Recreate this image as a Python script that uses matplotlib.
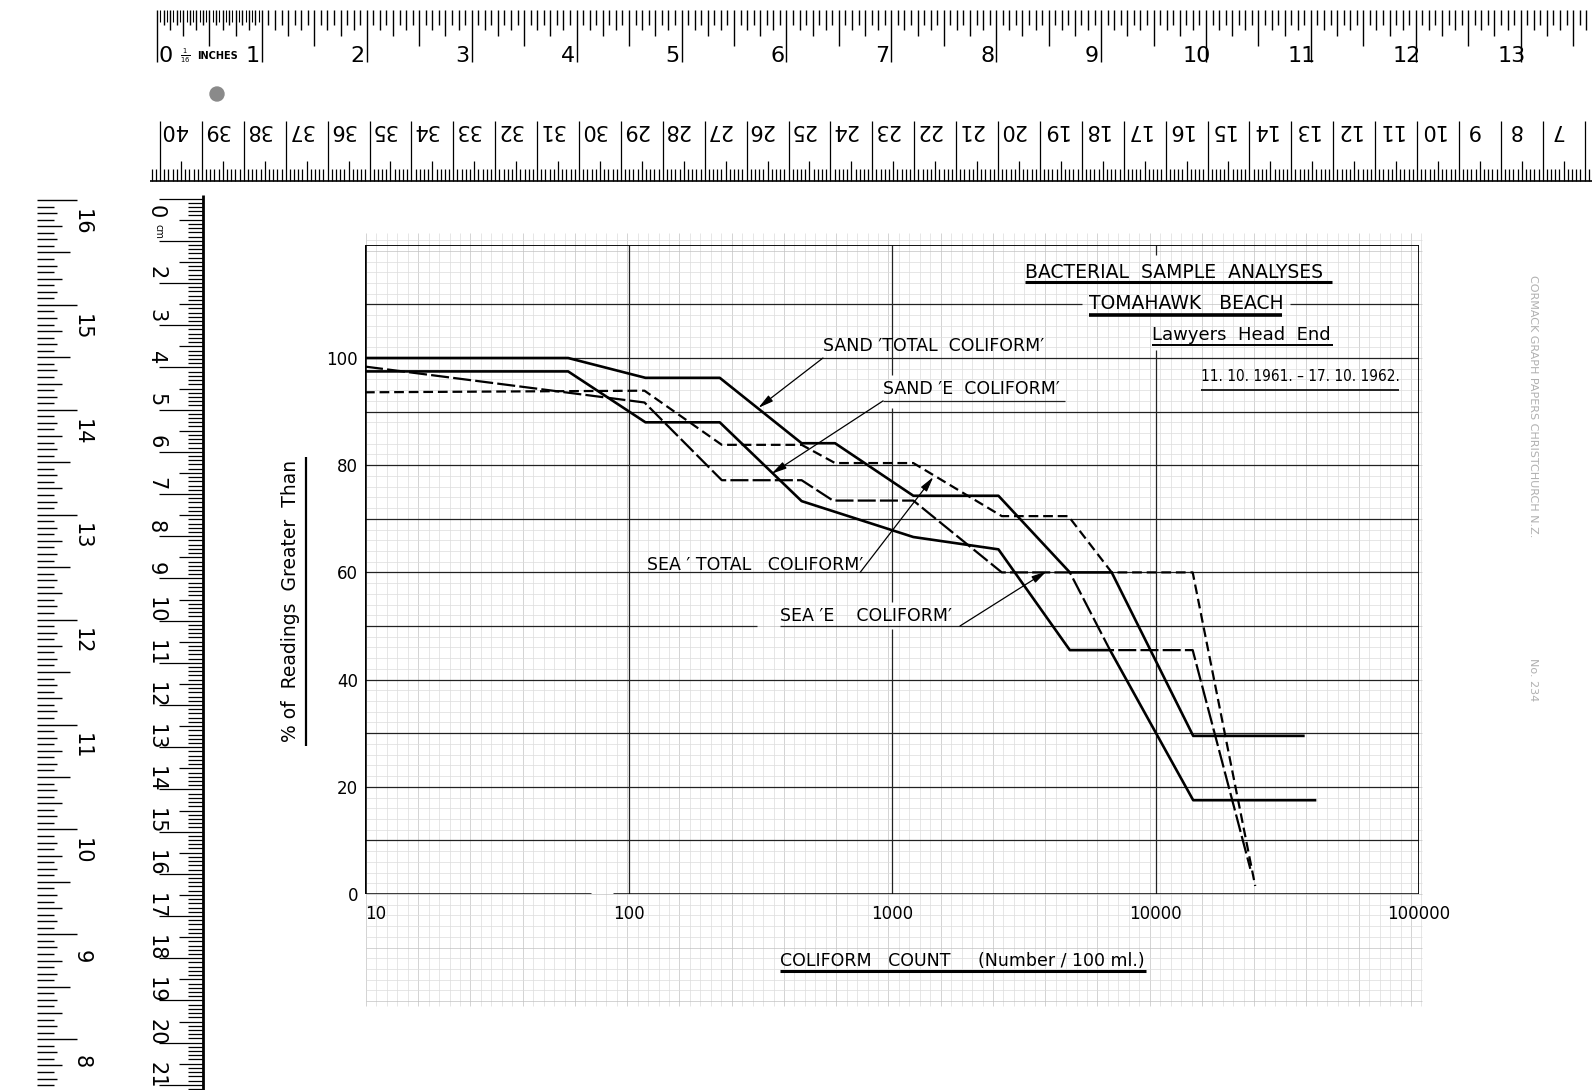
import matplotlib
matplotlib.use("Agg")
import matplotlib.pyplot as plt
from matplotlib.patches import Circle
from matplotlib.ticker import NullLocator
import numpy as np

plt.rcParams['font.family'] = ['DejaVu Sans']
plt.rcParams['lines.scale_dashes'] = False

# coliform count (number / 100 ml) against % of readings greater than
sand_total_x = [10, 59, 116, 222, 454, 608, 1205, 2535, 4730, 6820, 13900, 36400]
sand_total_y = [100, 100, 96.3, 96.3, 84.1, 84.1, 74.3, 74.3, 60, 60, 29.5, 29.5]
sand_e_x = [10, 59, 116, 222, 454, 1205, 2535, 4730, 6720, 13900, 40300]
sand_e_y = [97.5, 97.5, 88, 88, 73.3, 66.6, 64.3, 45.5, 45.5, 17.5, 17.5]
sea_total_x = [10, 115, 226, 454, 608, 1205, 2610, 4670, 6820, 13840, 23900]
sea_total_y = [93.6, 93.9, 83.8, 83.8, 80.4, 80.4, 70.5, 70.5, 60, 60, 1.5]
sea_e_x = [10, 115, 226, 454, 597, 1205, 2610, 4730, 6720, 13840, 22900]
sea_e_y = [98.4, 91.7, 77.2, 77.2, 73.4, 73.4, 60, 60, 45.5, 45.5, 4.7]

x_ticks = [10, 100, 1000, 10000, 100000]
x_labels = ['10', '100', '1000', '10000', '100000']
y_ticks = [0, 20, 40, 60, 80, 100]
y_labels = ['0', '20', '40', '60', '80', '100']

# ruler numbering
inch_top = list(range(0, 14))
cm_top = list(range(40, 6, -1))
inch_left = list(range(16, 7, -1))
cm_left = list(range(0, 22))

W, H = 1592, 1090
fig = plt.figure(figsize=(W / 100, H / 100), dpi=100)

# paper / rulers layer in pixel coordinates
paper = fig.add_axes([0, 0, 1, 1])
paper.set_xlim(0, W)
paper.set_ylim(H, 0)
paper.axis('off')
paper.set_zorder(0)

# fine graph paper grid
gx = np.arange(366, 1423, 10.45)
gy = 894 - np.arange(-10, 63) * 10.72
gy = gy[(gy > 232) & (gy < 1007)]
for i, x in enumerate(gx):
    paper.vlines(x, 233, 1006, color='#c2c2c2' if i % 5 == 0 else '#dcdcdc', lw=0.5)
for y in gy:
    k = int(round((894 - y) / 10.72))
    paper.hlines(y, 366, 1422, color='#c2c2c2' if k % 5 == 0 else '#dcdcdc', lw=0.5)

# top inch ruler
in0, ppi = 157, 104.9
for i in range(0, int((W - in0) / ppi * 16) + 1):
    x = in0 + i * ppi / 16
    if i % 16 == 0:
        L = 52
    elif i % 8 == 0:
        L = 36
    elif i % 4 == 0:
        L = 26
    elif i % 2 == 0:
        L = 20
    else:
        L = 15
    paper.vlines(x, 10, 10 + L, color='k', lw=1.0)
for i in range(1, 32, 2):
    paper.vlines(in0 + i * ppi / 32, 10, 22, color='k', lw=0.8)
for k in inch_top:
    if k == 0:
        paper.text(in0 + 9, 56, '0', fontsize=16, ha='center', va='center')
        paper.text(in0 + 28, 56, r'$\frac{1}{16}$', fontsize=7, ha='center', va='center')
        paper.text(in0 + 40, 56, 'INCHES', fontsize=7, fontweight='bold', ha='left', va='center')
    else:
        paper.text(in0 + k * ppi - 9, 56, str(k), fontsize=16, ha='center', va='center')

# upside down cm ruler
cm_x40, ppc = 160, 41.9
for m in range(-2, int((W - cm_x40) / ppc * 10) + 1):
    x = cm_x40 + m * ppc / 10
    if m % 10 == 0:
        L = 60
    elif m % 5 == 0:
        L = 20
    else:
        L = 12
    paper.vlines(x, 181 - L, 181, color='k', lw=0.9)
paper.hlines(181, 150, W, color='k', lw=1.2)
for n in cm_top:
    paper.text(cm_x40 + (40 - n) * ppc + 14, 130, str(n), fontsize=15,
               rotation=180, ha='center', va='center')
paper.add_patch(Circle((217, 94), 7, color='#8a8a8a'))

# left inch ruler
in16 = 200
for i in range(0, int((H - in16) / ppi * 16) + 1):
    y = in16 + i * ppi / 16
    if i % 16 == 0:
        L = 40
    elif i % 8 == 0:
        L = 33
    elif i % 4 == 0:
        L = 25
    elif i % 2 == 0:
        L = 20
    else:
        L = 17
    paper.hlines(y, 37, 37 + L, color='k', lw=1.0)
for j, k in enumerate(inch_left):
    paper.text(82, in16 + j * ppi + 22, str(k), fontsize=15, rotation=-90,
               ha='center', va='center')

# left cm ruler
cm0, ppc2, edge = 198.6, 42.2, 203
for m in range(0, int((H - cm0) / ppc2 * 10) + 1):
    y = cm0 + m * ppc2 / 10
    if m % 10 == 0:
        L = 44
    elif m % 5 == 0:
        L = 24
    else:
        L = 15
    paper.hlines(y, edge - L, edge, color='k', lw=0.9)
paper.vlines(edge, 195, H, color='k', lw=2.0)
for n in cm_left:
    if n == 0:
        paper.text(156, 212, '0', fontsize=15, rotation=-90, ha='center', va='center')
        paper.text(159, 231, 'cm', fontsize=7, rotation=-90, ha='center', va='center')
    elif n >= 2:
        paper.text(156, cm0 + n * ppc2 - 10, str(n), fontsize=15, rotation=-90,
                   ha='center', va='center')

paper.text(1533, 406, 'CORMACK GRAPH PAPERS CHRISTCHURCH N.Z.', fontsize=8,
           color='#b0b0b0', rotation=-90, ha='center', va='center')
paper.text(1533, 680, 'No. 234', fontsize=8, color='#b0b0b0', rotation=-90,
           ha='center', va='center')

# axis titles
paper.text(291, 601, '% of  Readings  Greater  Than', fontsize=13.5, rotation=90,
           ha='center', va='center')
paper.vlines(306, 457, 746, color='k', lw=1.6)
paper.text(780, 961, 'COLIFORM   COUNT', fontsize=12.5, ha='left', va='center')
paper.text(978, 961, '(Number / 100 ml.)', fontsize=12.5, ha='left', va='center')
paper.hlines(971, 780, 1146, color='k', lw=2.2)

# main chart axes
X0, X1, Y0, PPU, PTOP = 365, 1419, 894, 5.36, 121
ax = fig.add_axes([X0 / W, (H - Y0) / H, (X1 - X0) / W, PTOP * PPU / H])
ax.set_zorder(1)
ax.patch.set_alpha(0)
ax.set_xscale('log')
ax.set_xlim(10, 100000)
ax.set_ylim(0, PTOP)
for s in ax.spines.values():
    s.set_visible(False)
ax.xaxis.set_minor_locator(NullLocator())
ax.set_xticks(x_ticks, x_labels)
ax.set_yticks(y_ticks, y_labels)
ax.tick_params(length=0, labelsize=12)
ax.tick_params(axis='x', pad=8)
ax.tick_params(axis='y', pad=5)
ax.get_xticklabels()[0].set_horizontalalignment('left')

gline = dict(color='#222222', lw=0.9)
hsegs = {p: [(10, 100000)] for p in range(10, 111, 10)}
hsegs[50] = [(10, 308), (376, 100000)]
hsegs[110] = [(10, 5260), (32400, 100000)]
for p, segs in hsegs.items():
    for a, b in segs:
        ax.hlines(p, a, b, **gline)
ax.vlines(100, 0, PTOP, **gline)
for a, b in [(0, 49.5), (54.4, 90.7), (96.8, PTOP)]:
    ax.vlines(1000, a, b, **gline)
for a, b in [(0, 101.5), (119.3, PTOP)]:
    ax.vlines(10000, a, b, **gline)
ax.vlines(10, 0, PTOP, color='k', lw=1.8)
ax.vlines(100000, 0, PTOP, color='k', lw=1.3)
ax.hlines(PTOP, 10, 100000, color='k', lw=1.3)
ax.hlines(0, 10, 72, color='k', lw=1.8)
ax.hlines(0, 87, 100000, color='k', lw=1.8)

# curves
ax.plot(sand_total_x, sand_total_y, color='k', lw=1.9)
ax.plot(sand_e_x, sand_e_y, color='k', lw=1.9)
ax.plot(sea_total_x, sea_total_y, color='k', lw=1.6, dashes=(7, 3.5))
ax.plot(sea_e_x, sea_e_y, color='k', lw=1.6, dashes=(13, 3))

txt = dict(fontsize=12.5, clip_on=False)
arrow = dict(arrowstyle='-|>,head_length=0.9,head_width=0.22', color='k', lw=0.9,
             shrinkA=0, shrinkB=0)

ax.text(3200, 116.0, 'BACTERIAL  SAMPLE  ANALYSES', ha='left', va='center',
        fontsize=13.5, clip_on=False)
ax.hlines(114.2, 3200, 46800, color='k', lw=2.2)
ax.text(5600, 110.2, 'TOMAHAWK   BEACH', ha='left', va='center', fontsize=13.5,
        clip_on=False)
ax.hlines(108.0, 5600, 30200, color='k', lw=2.6)
ax.text(9700, 103.3, 'Lawyers  Head  End', ha='left', va='baseline', fontsize=13,
        clip_on=False)
ax.hlines(102.4, 9700, 47200, color='k', lw=1.4)
ax.text(14900, 96.6, '11. 10. 1961. – 17. 10. 1962.', ha='left', va='center',
        fontsize=11, fontstretch='condensed')
ax.hlines(94.0, 14900, 84000, color='k', lw=1.2)

ax.text(547, 102.2, "SAND ′TOTAL  COLIFORM′", ha='left', va='center', **txt)
ax.annotate('', xy=(311, 90.7), xytext=(547, 100), arrowprops=arrow)
ax.text(925, 94.2, "SAND ′E  COLIFORM′", ha='left', va='center', **txt)
ax.hlines(92.0, 925, 4540, **gline)
ax.annotate('', xy=(349, 78.4), xytext=(925, 92.0), arrowprops=arrow)
ax.text(117.5, 61.3, "SEA ′ TOTAL   COLIFORM′", ha='left', va='center', **txt)
ax.annotate('', xy=(1435, 77.8), xytext=(757, 60), arrowprops=arrow)
ax.text(376, 51.9, "SEA ′E    COLIFORM′", ha='left', va='center', **txt)
ax.annotate('', xy=(3860, 60.2), xytext=(1811, 50), arrowprops=arrow)

fig.savefig('out.png', dpi=100)
